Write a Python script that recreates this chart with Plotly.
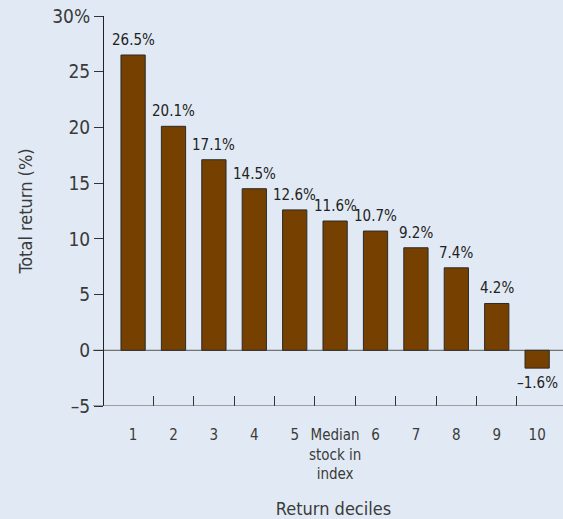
import plotly.graph_objects as go

categories = ["1", "2", "3", "4", "5", "Median stock in index", "6", "7", "8", "9", "10"]
category_labels = ["1", "2", "3", "4", "5", "Median<br>stock in<br>index", "6", "7", "8", "9", "10"]
returns = [26.5, 20.1, 17.1, 14.5, 12.6, 11.6, 10.7, 9.2, 7.4, 4.2, -1.6]
y_tickvals = [-5, 0, 5, 10, 15, 20, 25, 30]
y_ticktext = ["\u20135", "0", "5", "10", "15", "20", "25", "30%"]
boundary_ticks = [0.5, 1.5, 2.5, 3.5, 4.5, 5.5, 6.5, 7.5, 8.5, 9.5]

FONT = "DejaVu Sans Condensed, Liberation Sans Narrow, Roboto, sans-serif"
BG = "#e1eaf4"
BAR = "#764100"
TXT = "#222222"
XR = [-0.72, 10.64]
positions = list(range(len(categories)))

fig = go.Figure()
fig.add_trace(go.Bar(
    x=positions, y=returns, width=0.6,
    marker=dict(color=BAR, line=dict(color="#2a2a2a", width=1)),
    hoverinfo="skip", showlegend=False,
))

def fmt(v):
    s = f"{v:.1f}%"
    return s.replace("-", "\u2013")

annots = []
for p, v in zip(positions, returns):
    annots.append(dict(
        x=p, y=v, xref="x", yref="y", text=fmt(v), showarrow=False,
        yanchor="bottom" if v >= 0 else "top",
        yshift=4 if v >= 0 else -4,
        font=dict(family=FONT, size=15, color=TXT),
    ))

fig.update_layout(
    width=563, height=519,
    margin=dict(l=104, r=0, t=16, b=113),
    paper_bgcolor=BG, plot_bgcolor=BG,
    font=dict(family=FONT, color=TXT),
    annotations=annots,
    xaxis=dict(
        range=XR, tickvals=positions, ticktext=category_labels,
        showline=False, showgrid=False, zeroline=False, ticks="",
        tickfont=dict(family=FONT, size=15, color="#3a3a3a"),
        ticklabelstandoff=18,
        title=dict(text="Return deciles", font=dict(family=FONT, size=18, color="#3a3a3a"), standoff=22),
        fixedrange=True,
    ),
    xaxis2=dict(
        overlaying="x", anchor="y", side="bottom", range=XR,
        tickvals=boundary_ticks, ticks="inside", ticklen=10, tickwidth=1,
        tickcolor="#333333", showticklabels=False, showline=False,
        showgrid=False, zeroline=False,
    ),
    yaxis=dict(
        range=[-5, 30], tickvals=y_tickvals, ticktext=y_ticktext,
        showline=True, linecolor="#222222", linewidth=1,
        ticks="outside", ticklen=9, tickcolor="#333333",
        showgrid=False, zeroline=False,
        tickfont=dict(family=FONT, size=19, color="#3a3a3a"),
        title=dict(text="Total return (%)", font=dict(family=FONT, size=18, color="#3a3a3a"), standoff=14),
    ),
    shapes=[
        dict(type="line", xref="paper", yref="y", x0=-11 / 459, x1=1, y0=0, y1=0,
             line=dict(color="#555555", width=1), layer="below"),
        dict(type="line", xref="paper", yref="y", x0=-11 / 459, x1=1, y0=-5, y1=-5,
             line=dict(color="#555555", width=1), layer="above"),
    ],
)
fig.add_trace(go.Scatter(x=[0.5], y=[None], xaxis="x2", yaxis="y", mode="markers",
                         showlegend=False, hoverinfo="skip"))

fig.write_html("out.html")
